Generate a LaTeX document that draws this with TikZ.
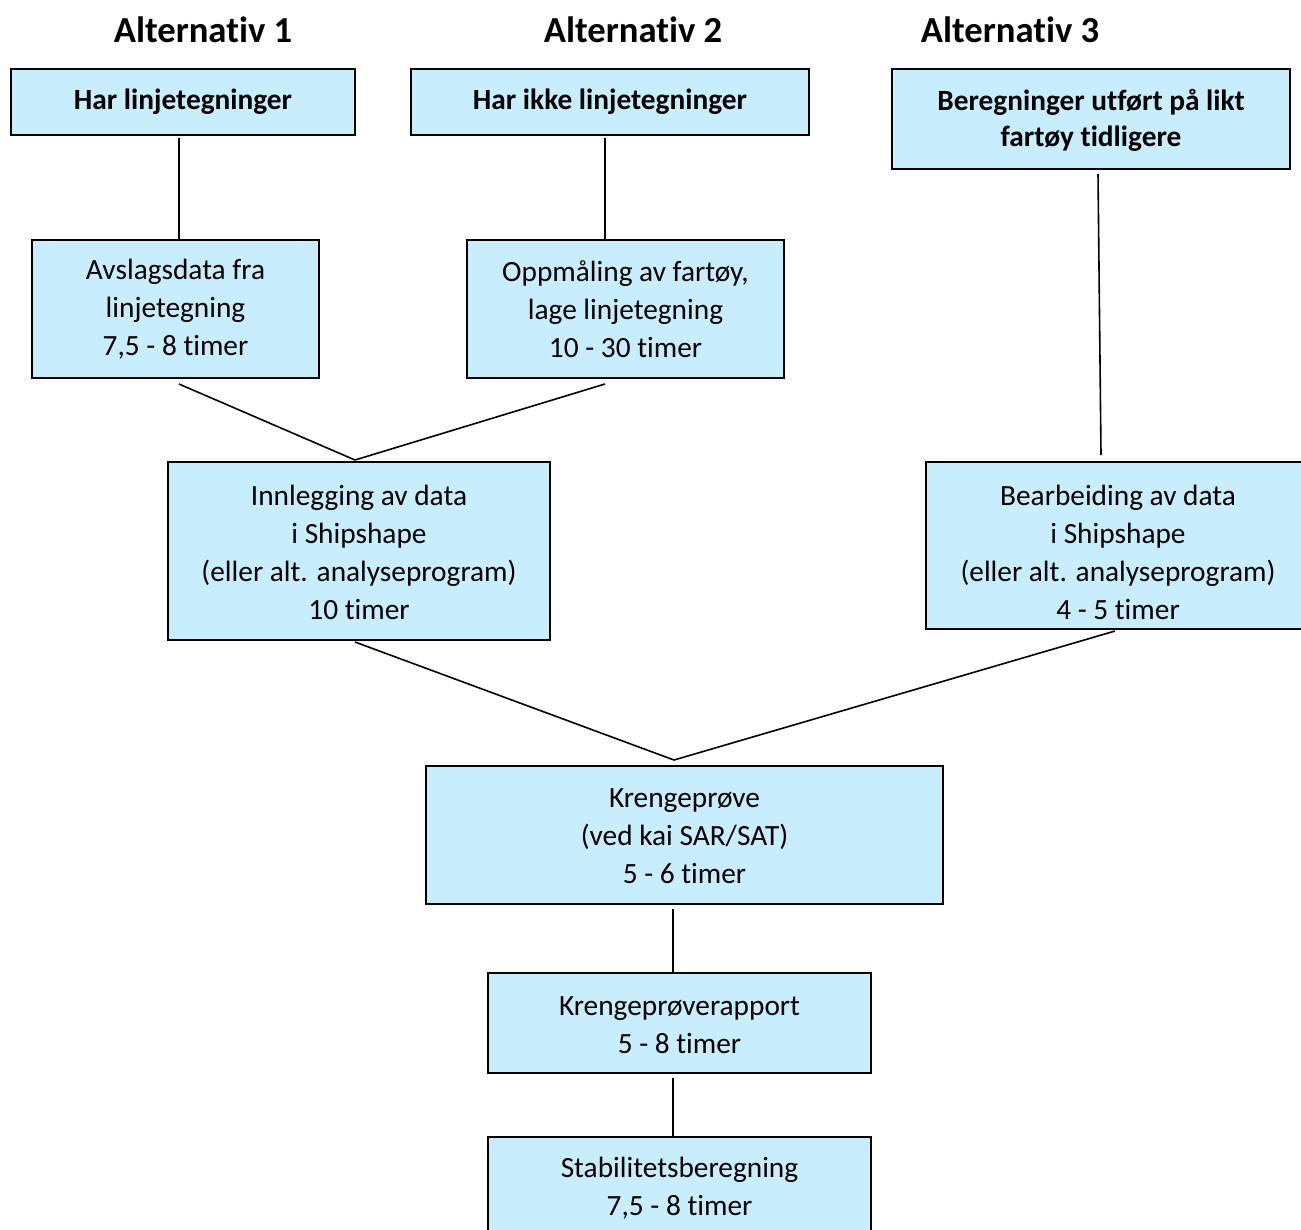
\documentclass[tikz,border=0pt]{standalone}
\usepackage{fontspec}
\setmainfont{Carlito}[Ligatures={NoCommon}]
\usetikzlibrary{calc}
\definecolor{boxblue}{RGB}{200,238,254}
\tikzset{
  box/.style={draw=black, fill=boxblue, line width=1.5pt, rectangle, inner sep=0pt},
  txt/.style={align=center, font=\fontsize{22pt}{28.5pt}\selectfont, inner sep=0pt},
  btxt/.style={align=center, font=\fontsize{22pt}{27pt}\selectfont\bfseries, inner sep=0pt},
  title/.style={font=\fontsize{27.5pt}{33pt}\selectfont\bfseries, inner sep=0pt},
  conn/.style={draw=black, line width=1.2pt}
}
\newcommand{\bx}[6]{% name, cx, cy, w, h, style
  \node[box, minimum width=#4*0.75pt, minimum height=#5*0.75pt] (#1) at (#2,#3) {};
}
\begin{document}
\begin{tikzpicture}[x=0.75pt, y=-0.75pt]
\clip (0,0) rectangle (1301,1229);
\useasboundingbox (0,0) rectangle (1301,1229);
\fill[white] (0,0) rectangle (1301,1229);

% titles
\node[title] (a1) at (203,30) {Alternativ 1};
\node[title] (a2) at (633,30) {Alternativ 2};
\node[title] (a3) at (1010,30) {Alternativ 3};

% top boxes
\bx{t1}{183}{102}{344}{66}{}
\node[btxt] (t1t) at (183,102) {Har linjetegninger};
\bx{t2}{610}{102}{398}{66}{}
\node[btxt] (t2t) at (610,102) {Har ikke linjetegninger};
\bx{t3}{1091}{119}{398}{100}{}
\node[btxt] (t3t) at (1091,120) {Beregninger utført på likt\\fartøy tidligere};

% second row
\bx{b1}{175.5}{309}{287}{138}{}
\node[txt] (b1t) at (175.5,309) {Avslagsdata fra\\linjetegning\\7,5 - 8 timer};
\bx{b2}{625.5}{309}{317}{138}{}
\node[txt] (b2t) at (625.5,309) {Oppmåling av fartøy,\\lage linjetegning\\10 - 30 timer};

% third row
\bx{c1}{359}{551}{382}{178}{}
\node[txt] (c1t) at (359,552) {Innlegging av data\\i Shipshape\\(eller alt. analyseprogram)\\10 timer};
\bx{c3}{1118}{545.5}{384}{167}{}
\node[txt] (c3t) at (1118,552) {Bearbeiding av data\\i Shipshape\\(eller alt. analyseprogram)\\4 - 5 timer};

% lower boxes
\bx{k}{684.5}{835}{517}{138}{}
\node[txt] (kt) at (684.5,836) {Krengeprøve\\(ved kai SAR/SAT)\\5 - 6 timer};
\bx{r}{679.5}{1023}{383}{100}{}
\node[txt] (rt) at (679.5,1025) {Krengeprøverapport\\5 - 8 timer};
\bx{s}{679.5}{1187}{383}{100}{}
\node[txt] (st) at (679.5,1188) {Stabilitetsberegning\\7,5 - 8 timer};

% connectors
\draw[conn] ($(t1.south)+(-4,2)$) -- ($(t1.south |- b1.north)+(-4,0)$);
\draw[conn] ($(t2.south)+(-5,2)$) -- ($(t2.south |- b2.north)+(-5,0)$);
\draw[conn] ($(t3.south)+(7,4)$) -- ($(c3.north)+(-17,-6)$);
\draw[conn] ($(b1.south)+(3.5,5)$) -- ($(c1.north)+(-4,-1)$);
\draw[conn] ($(b2.south)+(-20.5,5)$) -- ($(c1.north)+(-4,-1)$);
\draw[conn] ($(c1.south)+(-4,1)$) -- ($(k.north)+(-10.5,-5)$);
\draw[conn] ($(c3.south)+(-3,1)$) -- ($(k.north)+(-10.5,-5)$);
\draw[conn] ($(k.south)+(-11.5,4)$) -- ($(k.south |- r.north)+(-11.5,0)$);
\draw[conn] ($(r.south)+(-6.5,4)$) -- ($(r.south |- s.north)+(-6.5,0)$);
\end{tikzpicture}
\end{document}
